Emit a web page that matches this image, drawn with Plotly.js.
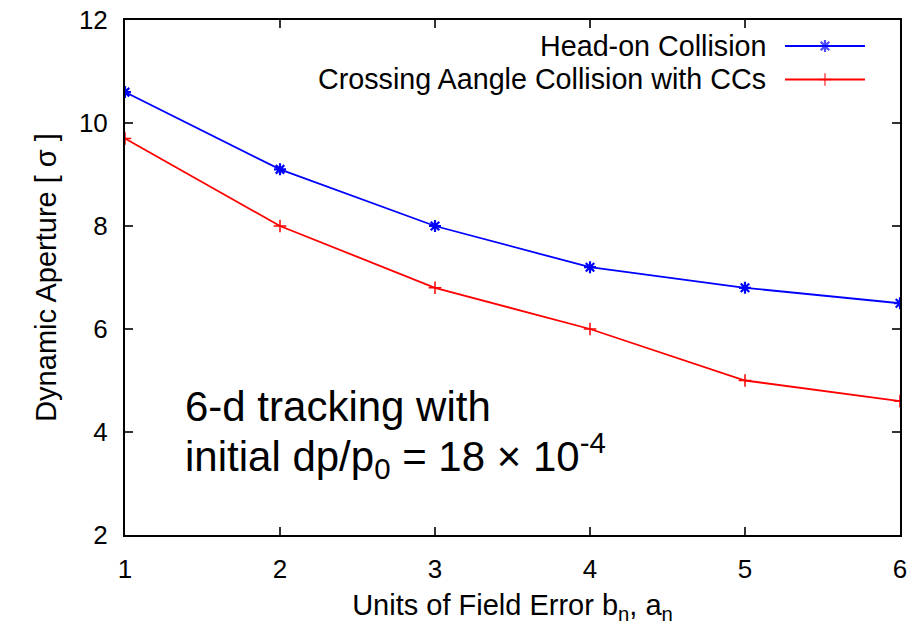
<!DOCTYPE html>
<html><head><meta charset="utf-8">
<script src="https://cdn.plot.ly/plotly-3.0.1.min.js"></script>
<style>html,body{margin:0;padding:0;background:#fff}#chart{width:913px;height:625px}</style>
</head><body><div id="chart"></div>
<script>
// ---- data ----
const units = [1, 2, 3, 4, 5, 6];
const headOn = [10.6, 9.1, 8.0, 7.2, 6.8, 6.5];
const crossing = [9.7, 8.0, 6.8, 6.0, 5.0, 4.6];
const seriesNames = ['Head-on Collision', 'Crossing Aangle Collision with CCs'];
const xTicks = [1, 2, 3, 4, 5, 6];
const yTicks = [2, 4, 6, 8, 10, 12];
const xTitle = 'Units of Field Error b<sub>n</sub>, a<sub>n</sub>';
const yTitle = 'Dynamic Aperture [ σ ]';
const noteLine1 = '6-d tracking with';
const noteLine2 = 'initial dp/p<sub>0</sub> = 18 × 10<sup>-4</sup>';

// ---- style ----
const FONT = 'Liberation Sans, Arial, Helvetica, sans-serif';
const BLUE = '#0000ff', RED = '#ff0000';
const keyX0 = 0.8516, keyX1 = 0.9548, keyTextX = 0.8297;
const keyY = [0.9495, 0.8845];

const traces = [
  {x: units, y: headOn, name: seriesNames[0], mode: 'lines+markers',
   line: {color: BLUE, width: 1.8},
   marker: {symbol: 'asterisk-open', size: 10, color: BLUE, line: {color: BLUE, width: 2.2}}},
  {x: units, y: crossing, name: seriesNames[1], mode: 'lines+markers',
   line: {color: RED, width: 1.8},
   marker: {symbol: 'cross-thin-open', size: 9, color: RED, line: {color: RED, width: 1.5}}},
  // legend keys (drawn on an invisible 0..1 overlay axis)
  {x: [keyX0, (keyX0 + keyX1) / 2, keyX1], y: [keyY[0], keyY[0], keyY[0]], xaxis: 'x2', yaxis: 'y2',
   mode: 'lines+markers', line: {color: BLUE, width: 1.8}, hoverinfo: 'skip',
   marker: {symbol: 'asterisk-open', size: [0, 10, 0], color: BLUE, line: {color: BLUE, width: 2.2}}},
  {x: [keyX0, (keyX0 + keyX1) / 2, keyX1], y: [keyY[1], keyY[1], keyY[1]], xaxis: 'x2', yaxis: 'y2',
   mode: 'lines+markers', line: {color: RED, width: 1.8}, hoverinfo: 'skip',
   marker: {symbol: 'cross-thin-open', size: [0, 9, 0], color: RED, line: {color: RED, width: 1.5}}}
];

const axisCommon = {
  showline: true, linecolor: '#000', linewidth: 2, mirror: 'allticks',
  ticks: 'inside', ticklen: 8, tickwidth: 1.5, tickcolor: '#333',
  showgrid: false, zeroline: false,
  tickfont: {family: FONT, size: 26, color: '#000'}
};

const layout = {
  width: 913, height: 625,
  margin: {l: 125, r: 13, t: 20, b: 90},
  paper_bgcolor: '#fff', plot_bgcolor: '#fff',
  showlegend: false,
  font: {family: FONT, color: '#000'},
  xaxis: Object.assign({}, axisCommon, {
    range: [1, 6], tickvals: xTicks, ticktext: xTicks.map(String), ticklabelstandoff: 10,
    title: {text: xTitle, font: {family: FONT, size: 29, color: '#000'}, standoff: 12}
  }),
  yaxis: Object.assign({}, axisCommon, {
    range: [2, 12], tickvals: yTicks, ticktext: yTicks.map(String), ticklabelstandoff: 10,
    title: {text: yTitle, font: {family: FONT, size: 29, color: '#000'}, standoff: 14}
  }),
  xaxis2: {overlaying: 'x', range: [0, 1], visible: false},
  yaxis2: {overlaying: 'y', range: [0, 1], visible: false},
  annotations: [
    {xref: 'paper', yref: 'paper', x: keyTextX, y: keyY[0], xanchor: 'right', yanchor: 'middle',
     text: seriesNames[0], showarrow: false, font: {family: FONT, size: 28.7, color: '#000'}},
    {xref: 'paper', yref: 'paper', x: keyTextX, y: keyY[1], xanchor: 'right', yanchor: 'middle',
     text: seriesNames[1], showarrow: false, font: {family: FONT, size: 28.7, color: '#000'}},
    {xref: 'paper', yref: 'paper', x: 0.0748, y: 0.25, xanchor: 'left', yanchor: 'middle',
     text: noteLine1, showarrow: false, font: {family: FONT, size: 42, color: '#000'}},
    {xref: 'paper', yref: 'paper', x: 0.0748, y: 0.155, xanchor: 'left', yanchor: 'middle',
     text: noteLine2, showarrow: false, font: {family: FONT, size: 42, color: '#000'}}
  ]
};

Plotly.newPlot('chart', traces, layout, {displayModeBar: false, staticPlot: true});
</script>
</body></html>
